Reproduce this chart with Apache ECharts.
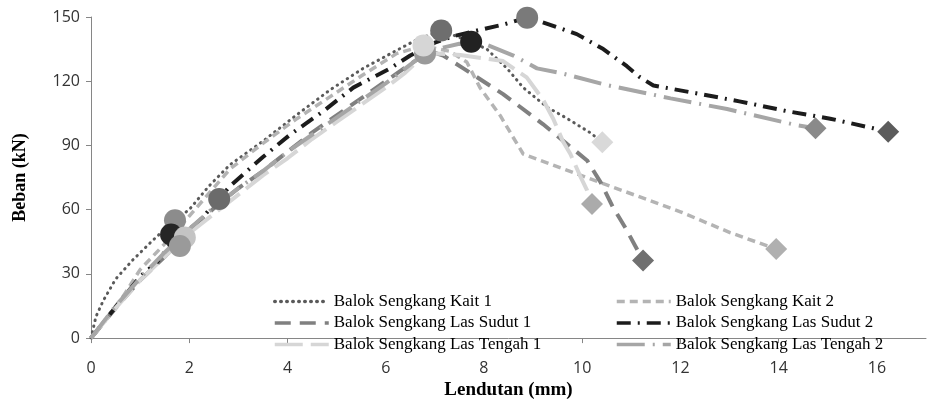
<!DOCTYPE html>
<html>
<head>
<meta charset="utf-8">
<script src="https://cdn.jsdelivr.net/npm/echarts@6/dist/echarts.min.js"></script>
<style>html,body{margin:0;padding:0;background:#fff}#c{width:928px;height:405px}</style>
</head>
<body>
<div id="c"></div>
<script>
// ---- data ----
const seriesNames = ['Balok Sengkang Kait 1','Balok Sengkang Kait 2','Balok Sengkang Las Sudut 1','Balok Sengkang Las Sudut 2','Balok Sengkang Las Tengah 1','Balok Sengkang Las Tengah 2'];

const kait1X = [0,0.1,0.25,0.5,0.85,1.25,1.7,2.0,2.4,2.83,3.5,4.2,4.87,5.54,6.23,6.6,7.13,7.74,8.06,8.47,8.8,9.28,9.7,10.16,10.41];
const kait1Y = [0,10,17.5,27.5,36.5,45.5,55,60,71,81,92,104.5,116,126,134.5,139,143.7,138.4,135,126,117,108,102.5,96,91.5];

const kait2X = [0,0.3,0.66,1.0,1.5,2.0,2.83,3.5,4.19,4.87,5.54,6.23,6.76,7.3,7.65,7.92,8.33,8.6,8.8,10.37,12.0,13.01,13.95];
const kait2Y = [0,9,19.7,32,44,57,79,91,102.5,112.8,123,133,136.5,134,129,117,104,93.6,86,72.7,59,49.3,41.6];

const sudut1X = [0,0.5,1.0,1.5,2.0,2.61,3.0,3.5,4.0,4.5,5.0,5.5,6.0,6.5,6.9,7.17,7.58,8.39,9.2,9.7,10.1,10.37,10.63,10.88,11.24];
const sudut1Y = [0,14,27,38,50,63,70,78,87,96,104,112,120,128,134,132,126,114,100,90.5,83,73,61,51.5,36.3];

const sudut2X = [0,0.45,1.0,1.34,1.63,2.22,2.83,3.5,4.05,4.73,5.34,6.09,6.5,7.0,7.37,7.92,8.4,8.88,9.14,9.89,10.43,10.91,11.18,11.45,12.34,13.2,14.17,15.05,15.93,16.23];
const sudut2Y = [0,13,28.7,35.4,44,55,71,84.6,95,106,117,126,132,138,141,144,146.5,149.7,148,142,135,127,121.8,118,114.3,110.6,106,102.5,98,96.4];

const tengah1X = [0,0.5,1.0,1.5,2.0,2.5,3.0,3.5,4.0,4.5,5.0,5.5,6.0,6.4,6.77,7.0,7.52,8.39,8.87,9.2,9.41,9.61,9.76,9.96,10.1,10.2];
const tengah1Y = [0,14,27,38,49,58,67,76,84,93,101,109,117,124,132,133,132.2,129.4,121.8,111.5,102.5,91.8,86,75.7,69,62.7];

const tengah2X = [0,0.5,1.0,1.5,2.0,2.5,3.0,3.5,4.0,4.5,5.0,5.5,6.0,6.4,6.8,7.04,7.5,8.06,8.6,9.08,9.6,10.5,11.8,12.95,14.38,14.75];
const tengah2Y = [0,15,28,40,51,61,70,78,87,95,103,111,119,126,133,135,137.5,137,132,126,123.6,118.2,112,107,99.4,98];

// marker points (first crack, peak, end)
const crackX = [1.71,1.63,1.91,1.81,2.61];
const crackY = [55,48.4,47,43,65];
const peakX = [7.13,8.88,7.74,6.8,6.77];
const peakY = [143.7,149.7,138.4,133,136.7];
const endX = [10.41,10.2,11.24,13.95,14.75,16.23];
const endY = [91.5,62.7,36.3,41.6,98,96.4];

const xTicks = [0,2,4,6,8,10,12,14,16];
const yTicks = [0,30,60,90,120,150];

// ---- styles ----
const lineStyles = [
  {color:'#5a5a5a', width:3, type:[0.5,5.5], cap:'round'},
  {color:'#b4b4b4', width:3.5, type:[8,5]},
  {color:'#808080', width:4, type:[16,9]},
  {color:'#1c1c1c', width:4, type:[14,7,2,7], cap:'butt'},
  {color:'#d6d6d6', width:4, type:[28,8]},
  {color:'#a6a6a6', width:4, type:[28,8,2,8]}
];
const crackColors = ['#8c8c8c','#262626','#c4c4c4','#9a9a9a','#6b6b6b'];
const peakColors = ['#6e6e6e','#7a7a7a','#222222','#9a9a9a','#d6d6d6'];
const endColors = ['#d9d9d9','#ababab','#707070','#b0b0b0','#8a8a8a','#5c5c5c'];

const xs = [kait1X,kait2X,sudut1X,sudut2X,tengah1X,tengah2X];
const ys = [kait1Y,kait2Y,sudut1Y,sudut2Y,tengah1Y,tengah2Y];

const series = seriesNames.map((n,i)=>({
  name:n, type:'line', symbol:'none', showSymbol:false, smooth:false,
  data: xs[i].map((x,j)=>[x, ys[i][j]]),
  lineStyle: lineStyles[i], itemStyle:{color: lineStyles[i].color},
  z:2
}));

function markerSeries(name, X, Y, colors, symbol, size){
  return {
    name, type:'scatter', symbol, symbolSize:size, z:5,
    data: X.map((x,j)=>({value:[x,Y[j]], itemStyle:{color:colors[j], opacity:1}})),
    emphasis:{disabled:true}
  };
}
series.push(markerSeries('crack', crackX, crackY, crackColors, 'circle', 22));
series.push(markerSeries('peak', peakX, peakY, peakColors, 'circle', 22));
series.push(markerSeries('end', endX, endY, endColors, 'diamond', 22));

const legendText = {fontFamily:'Liberation Serif', fontSize:17, color:'#000'};
const legendCommon = {orient:'vertical', top:288, itemWidth:54, itemHeight:14, itemGap:4.5,
  textStyle:legendText, selectedMode:false, itemStyle:{opacity:0, borderWidth:0},
  lineStyle:{width:3.5}};
const chart = echarts.init(document.getElementById('c'), null, {renderer:'canvas'});
chart.setOption({
  animation:false,
  backgroundColor:'#fff',
  grid:{left:91, right:2, top:17, bottom:53, containLabel:false},
  legend:[
    Object.assign({data:[seriesNames[0],seriesNames[2],seriesNames[4]], left:268}, legendCommon),
    Object.assign({data:[seriesNames[1],seriesNames[3],seriesNames[5]], left:610}, legendCommon)
  ],
  xAxis:{
    type:'value', min:0, max:17, interval:2,
    name:'Lendutan (mm)', nameLocation:'middle', nameGap:31,
    nameTextStyle:{fontFamily:'Liberation Serif', fontWeight:'bold', fontSize:19, color:'#000'},
    axisLine:{show:true, onZero:false, lineStyle:{color:'#868686', width:1}},
    axisTick:{show:true, length:5, lineStyle:{color:'#868686'}, customValues:xTicks},
    axisLabel:{fontFamily:'Open Sans', fontSize:16, color:'#333', margin:22, customValues:xTicks},
    splitLine:{show:false}
  },
  yAxis:{
    type:'value', min:0, max:150, interval:30,
    name:'Beban (kN)', nameLocation:'middle', nameGap:62, nameRotate:90,
    nameTextStyle:{fontFamily:'Liberation Serif', fontWeight:'bold', fontSize:18, color:'#000'},
    axisLine:{show:true, lineStyle:{color:'#868686', width:1}},
    axisTick:{show:true, length:5, lineStyle:{color:'#868686'}, customValues:yTicks},
    axisLabel:{fontFamily:'Open Sans', fontSize:16, color:'#333', margin:11, customValues:yTicks},
    splitLine:{show:false}
  },
  series
});
</script>
</body>
</html>
